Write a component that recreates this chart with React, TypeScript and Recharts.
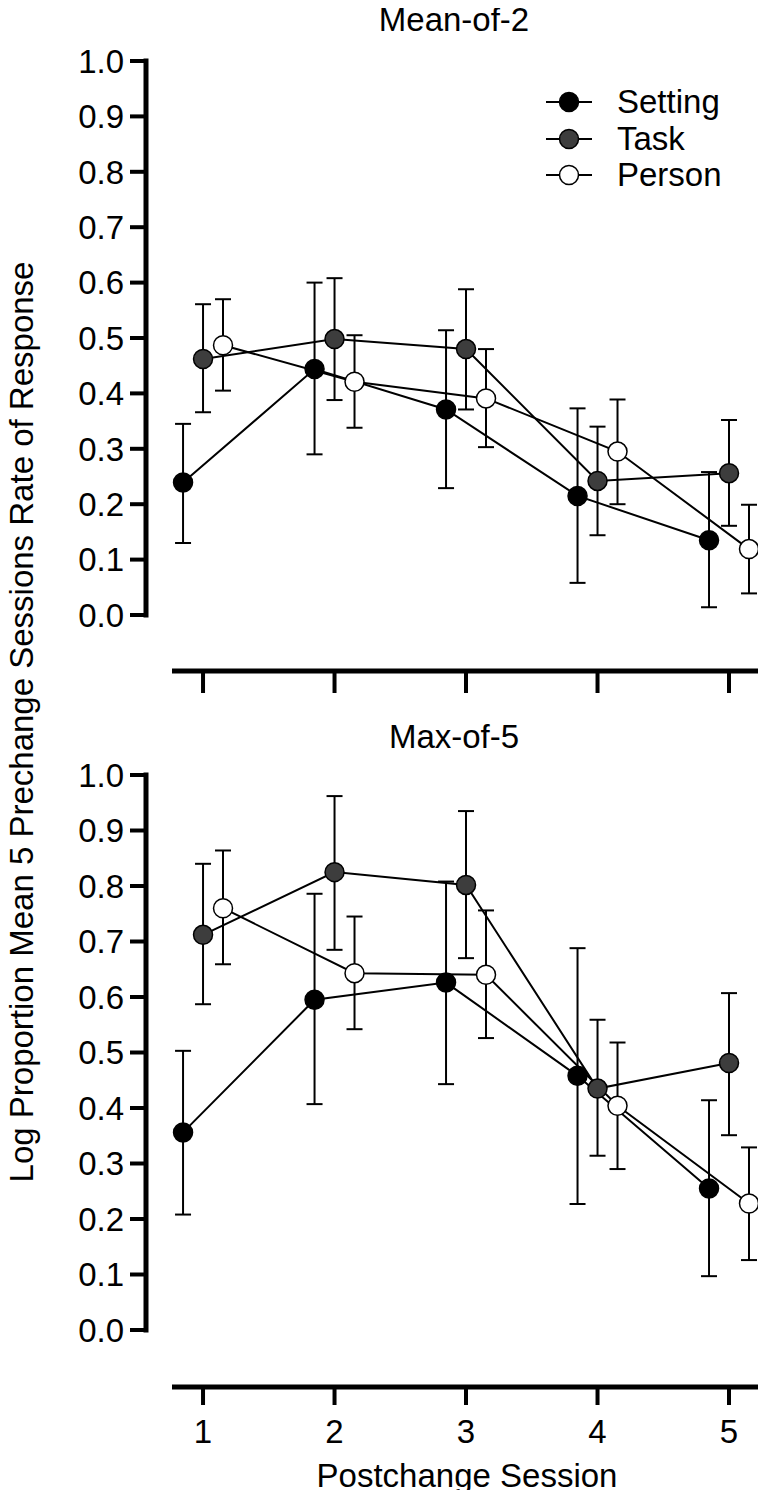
import React from 'react';
import { LineChart, Line, XAxis, YAxis, ErrorBar, Legend } from 'recharts';

const FONT = "'Liberation Sans', Arial, Helvetica, sans-serif";

// Postchange sessions shown on the x axis
const sessions = [1, 2, 3, 4, 5];
const sessionTicks = [1, 2, 3, 4, 5];
const valueTicks = [0, 0.1, 0.2, 0.3, 0.4, 0.5, 0.6, 0.7, 0.8, 0.9, 1.0];

// Context groups; points are nudged sideways so the error bars don't overlap
const groupNames = ['Setting', 'Task', 'Person'];
const groupOffsets = [-0.152, 0, 0.152];
const groupFills = ['#000000', '#3d3d3d', '#ffffff'];

// Mean-of-2 panel: means with lower / upper error bar ends
const meanSetting = [0.239, 0.444, 0.371, 0.215, 0.135];
const meanSettingLo = [0.13, 0.29, 0.229, 0.058, 0.014];
const meanSettingHi = [0.345, 0.6, 0.514, 0.373, 0.258];
const meanTask = [0.462, 0.498, 0.48, 0.242, 0.256];
const meanTaskLo = [0.366, 0.388, 0.371, 0.144, 0.161];
const meanTaskHi = [0.561, 0.608, 0.588, 0.34, 0.352];
const meanPerson = [0.487, 0.421, 0.391, 0.295, 0.119];
const meanPersonLo = [0.405, 0.338, 0.303, 0.2, 0.039];
const meanPersonHi = [0.57, 0.505, 0.48, 0.389, 0.199];

// Max-of-5 panel
const maxSetting = [0.356, 0.595, 0.626, 0.458, 0.255];
const maxSettingLo = [0.208, 0.407, 0.443, 0.227, 0.097];
const maxSettingHi = [0.503, 0.786, 0.808, 0.688, 0.414];
const maxTask = [0.712, 0.825, 0.802, 0.435, 0.481];
const maxTaskLo = [0.587, 0.685, 0.67, 0.314, 0.351];
const maxTaskHi = [0.84, 0.962, 0.935, 0.559, 0.607];
const maxPerson = [0.76, 0.643, 0.64, 0.404, 0.228];
const maxPersonLo = [0.659, 0.542, 0.526, 0.29, 0.126];
const maxPersonHi = [0.864, 0.745, 0.756, 0.518, 0.329];

type Row = { x: number; y: number; err: [number, number] };

const buildRows = (offset: number, mean: number[], lo: number[], hi: number[]): Row[] =>
  sessions.map((s, i) => ({
    x: s + offset,
    y: mean[i],
    err: [mean[i] - lo[i], hi[i] - mean[i]],
  }));

const meanOf2Series = [
  buildRows(groupOffsets[0], meanSetting, meanSettingLo, meanSettingHi),
  buildRows(groupOffsets[1], meanTask, meanTaskLo, meanTaskHi),
  buildRows(groupOffsets[2], meanPerson, meanPersonLo, meanPersonHi),
];

const maxOf5Series = [
  buildRows(groupOffsets[0], maxSetting, maxSettingLo, maxSettingHi),
  buildRows(groupOffsets[1], maxTask, maxTaskLo, maxTaskHi),
  buildRows(groupOffsets[2], maxPerson, maxPersonLo, maxPersonHi),
];

const CHART_W = 758;

const renderLegend = () => (
  <div style={{ fontFamily: FONT, fontSize: 33, color: '#000' }}>
    {groupNames.map((name, i) => (
      <div key={name} style={{ display: 'flex', alignItems: 'center', height: 36.5 }}>
        <svg width={46} height={24} style={{ display: 'block' }}>
          <line x1={0} y1={12} x2={46} y2={12} stroke="#000" strokeWidth={2} />
          <circle cx={23} cy={12} r={9.5} fill={groupFills[i]} stroke="#000" strokeWidth={1.5} />
        </svg>
        <span style={{ marginLeft: 25, lineHeight: '36px', whiteSpace: 'nowrap' }}>{name}</span>
      </div>
    ))}
  </div>
);

// Tick marks without numbers (upper panel)
const emptyTick = () => <g />;

type PanelProps = {
  series: Row[][];
  height: number;
  top: number;
  plotH: number;
  gap: number;
  tickLen: number;
  showLabels: boolean;
  showLegend: boolean;
};

function SessionPanel({ series, height, top, plotH, gap, tickLen, showLabels, showLegend }: PanelProps) {
  const axisHeight = height - top - plotH - gap;
  return (
    <LineChart width={CHART_W} height={height} margin={{ top, right: 7, bottom: 0, left: 0 }}>
      <XAxis xAxisId="gap" type="number" domain={[0, 1]} height={gap} axisLine={false} tickLine={false} tick={false} />
      <XAxis
        xAxisId="s"
        dataKey="x"
        type="number"
        domain={[0.764, 5.228]}
        ticks={sessionTicks}
        interval={0}
        allowDataOverflow
        height={axisHeight}
        axisLine={{ stroke: '#000', strokeWidth: 5 }}
        tickLine={{ stroke: '#000', strokeWidth: 4 }}
        tickSize={tickLen}
        tickMargin={15}
        tick={showLabels ? { fill: '#000', fontSize: 33, fontFamily: FONT } : emptyTick}
      />
      <YAxis yAxisId="gap" type="number" domain={[0, 1]} width={26} axisLine={false} tickLine={false} tick={false} />
      <YAxis
        yAxisId="v"
        type="number"
        domain={[0, 1]}
        ticks={valueTicks}
        interval={0}
        width={138}
        tickFormatter={(v: number) => v.toFixed(1)}
        axisLine={{ stroke: '#000', strokeWidth: 5, strokeLinecap: 'square' }}
        tickLine={{ stroke: '#000', strokeWidth: 4 }}
        tickSize={16}
        tickMargin={6}
        tick={{ fill: '#000', fontSize: 33, fontFamily: FONT }}
      />
      {showLegend && (
        <Legend
          layout="vertical"
          align="center"
          verticalAlign="middle"
          content={renderLegend}
          wrapperStyle={{ top: 76, left: 538, right: 'auto', bottom: 'auto', width: 220 }}
        />
      )}
      {series.map((rows, i) => (
        <Line
          key={groupNames[i]}
          name={groupNames[i]}
          xAxisId="s"
          yAxisId="v"
          data={rows}
          dataKey="y"
          type="linear"
          stroke="#000"
          strokeWidth={2}
          dot={{ r: 9.5, fill: groupFills[i], stroke: '#000', strokeWidth: 1.5 }}
          activeDot={false}
          isAnimationActive={false}
        >
          <ErrorBar dataKey="err" direction="y" width={8} stroke="#000" strokeWidth={2} isAnimationActive={false} />
        </Line>
      ))}
    </LineChart>
  );
}

export default function App() {
  return (
    <div style={{ position: 'relative', width: CHART_W, height: 1482, background: '#fff' }}>
      <SessionPanel
        series={meanOf2Series}
        height={700}
        top={53}
        plotH={554}
        gap={56}
        tickLen={22}
        showLabels={false}
        showLegend={true}
      />
      <SessionPanel
        series={maxOf5Series}
        height={782}
        top={67}
        plotH={555}
        gap={57}
        tickLen={18}
        showLabels={true}
        showLegend={false}
      />
      {/* Panel titles and shared axis titles, laid over both panels */}
      <svg
        width={766}
        height={1498}
        style={{ position: 'absolute', left: -8, top: -8, pointerEvents: 'none', overflow: 'visible' }}
      >
        <text x={454} y={31} textAnchor="middle" fontFamily={FONT} fontSize={33} fill="#000">
          Mean-of-2
        </text>
        <text x={454} y={748} textAnchor="middle" fontFamily={FONT} fontSize={33} fill="#000">
          Max-of-5
        </text>
        <text x={467} y={1487} textAnchor="middle" fontFamily={FONT} fontSize={33} fill="#000">
          Postchange Session
        </text>
        <text
          transform="translate(33, 722) rotate(-90)"
          textAnchor="middle"
          fontFamily={FONT}
          fontSize={33}
          fill="#000"
        >
          Log Proportion Mean 5 Prechange Sessions Rate of Response
        </text>
      </svg>
    </div>
  );
}
